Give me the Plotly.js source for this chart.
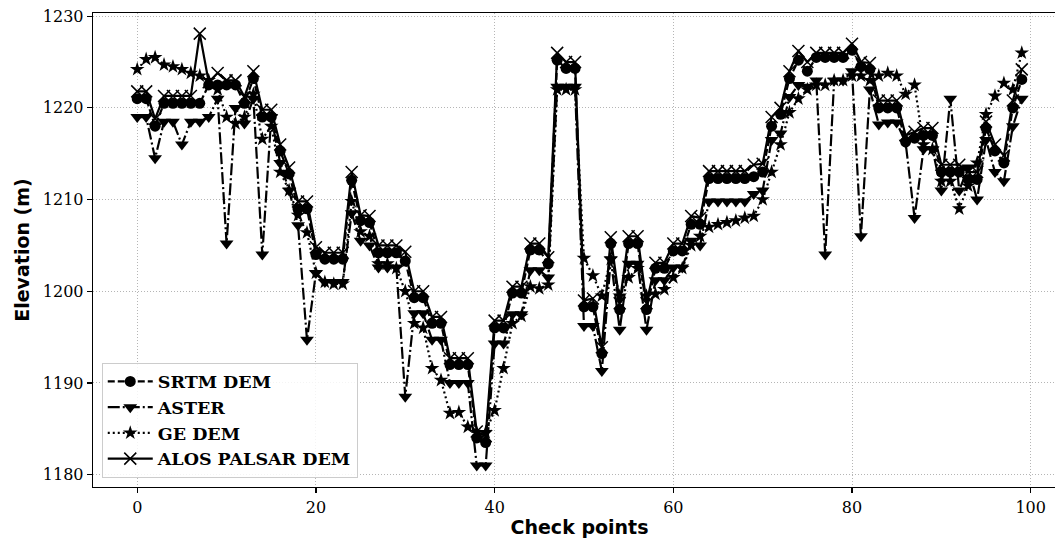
<!DOCTYPE html>
<html>
<head>
<meta charset="utf-8">
<script src="https://cdn.plot.ly/plotly-3.0.1.min.js"></script>
<style>html,body{margin:0;padding:0;overflow:hidden;background:#fff;}#chart{width:1080px;height:541px;}</style>
</head>
<body>
<div id="chart"></div>
<script>
const checkPoints = Array.from({length: 100}, (_, i) => i);

const srtm = [1221,1221,1218,1220.5,1220.5,1220.5,1220.5,1220.5,1222.5,1222.5,
1222.5,1222.5,1220.5,1223.2,1219,1219,1215.3,1212.8,1209,1209,
1204,1203.5,1203.5,1203.5,1212.1,1207.7,1207.5,1204.2,1204.2,1204.2,
1203.3,1199.3,1199.3,1196.5,1196.5,1192,1192,1192,1184,1183.5,
1196,1196,1199.8,1199.8,1204.5,1204.5,1203,1225.2,1224.3,1224.3,
1198.3,1198.3,1193.2,1205.2,1198,1205.2,1205.2,1198,1202.5,1202.5,
1204.4,1204.4,1207.3,1207.3,1212.3,1212.3,1212.3,1212.3,1212.3,1212.5,
1213,1218,1219.3,1223.2,1225.2,1224,1225.5,1225.5,1225.5,1225.5,
1226.3,1224.5,1224.2,1220,1220,1220,1216.3,1216.7,1217,1217,
1213,1213,1213,1212.2,1212.2,1217.8,1215.3,1214,1220,1223.1];

const aster = [1219,1219,1214.5,1218.5,1218.5,1216,1218.5,1218.5,1219,1221,
1205.2,1220,1218.3,1221,1204,1219,1214,1211,1207.2,1194.7,
1202,1201,1201,1201,1208.5,1205.5,1205,1202.6,1202.6,1202.6,
1188.5,1197.6,1197.6,1194.7,1194.7,1190,1190,1190,1181,1181,
1194.3,1194.3,1197.5,1197.5,1202.3,1202.3,1201.5,1222.3,1222.3,1222.3,
1196.2,1196.2,1191.3,1203.5,1195.8,1203,1203,1195.8,1201.2,1201.2,
1202.6,1202.6,1205.5,1205,1209.8,1209.8,1209.8,1209.8,1209.8,1210.6,
1211,1216.5,1217.2,1221.2,1222.5,1222.3,1223,1204,1223,1223,
1224,1206,1222,1218.2,1218.4,1218.4,1216.2,1208,1215.5,1215.5,
1211,1221,1211,1213.5,1210,1216.5,1213,1212,1218,1221];

const geDem = [1224.2,1225.3,1225.5,1224.7,1224.5,1224.2,1223.8,1223.5,1223,1222,
1219,1218.3,1219,1221.5,1216.6,1218,1213,1211,1208.3,1206.4,
1202,1201,1200.8,1200.8,1209.8,1206.5,1206,1203,1203,1202.5,
1200,1196.5,1196,1191.6,1190.3,1186.7,1186.8,1185.2,1184.6,1184.6,
1187,1191.6,1196.5,1197.3,1200.5,1200.3,1200.7,1222,1222,1222,
1203.6,1201.7,1199.5,1203.5,1199.5,1201.5,1202.5,1199.5,1199.7,1200.2,
1201.5,1202.5,1205,1206,1207,1207.3,1207.5,1207.7,1208,1208.2,
1210,1213,1216,1219.5,1221,1222,1222.5,1222.5,1223,1223,
1223.5,1223.5,1223,1223.5,1223.8,1223.5,1221.5,1222.5,1216,1215.5,
1212,1212,1209,1211.5,1214,1219.3,1221.3,1222.7,1222,1226];

const alos = [1221.8,1221.8,1218.8,1221.3,1221.3,1221.3,1221.3,1228.1,1222.8,1223.8,
1223,1223,1221.2,1224,1219.8,1219.8,1216,1213.5,1209.8,1209.8,
1204.8,1204.2,1204.2,1204.2,1213,1208.3,1208.2,1205,1205,1205,
1204.3,1200,1200,1197.2,1197.2,1192.7,1192.7,1192.7,1184.7,1184.2,
1196.8,1196.8,1200.5,1200.5,1205.2,1205.2,1203.7,1226,1225,1225,
1199,1199.2,1193.9,1205.9,1198.7,1206,1206,1198.7,1203.1,1203.1,
1205.2,1205.2,1208.2,1208,1213.1,1213.1,1213.1,1213.1,1213.1,1213.8,
1213.9,1219,1220,1224,1226.2,1225,1226,1226,1226,1226,
1227,1225,1224.9,1220.8,1220.8,1220.8,1217,1217.4,1217.8,1217.8,
1213.8,1213.8,1213.8,1213,1213,1218.5,1216,1214.8,1220.8,1224.2];

const seriesNames = ['SRTM DEM', 'ASTER', 'GE DEM', 'ALOS PALSAR DEM'];
const xTicks = [0, 20, 40, 60, 80, 100];
const yTicks = [1180, 1190, 1200, 1210, 1220, 1230];

const traces = [
  {x: checkPoints, y: srtm, name: seriesNames[0], mode: 'lines+markers',
   line: {color: '#000', width: 2.2, dash: '7px,3px'},
   marker: {symbol: 'circle', size: 11, color: '#000'}},
  {x: checkPoints, y: aster, name: seriesNames[1], mode: 'lines+markers',
   line: {color: '#000', width: 2.2, dash: '12px,3px,2px,3px'},
   marker: {symbol: 'triangle-down', size: 12, color: '#000'}},
  {x: checkPoints, y: geDem, name: seriesNames[2], mode: 'lines+markers',
   line: {color: '#000', width: 2.2, dash: '2px,3px'},
   marker: {symbol: 'star', size: 11, color: '#000'}},
  {x: checkPoints, y: alos, name: seriesNames[3], mode: 'lines+markers',
   line: {color: '#000', width: 2.2, dash: 'solid'},
   marker: {symbol: 'x-thin-open', size: 12, color: '#000', line: {color: '#000', width: 1.5}}}
];

const axisCommon = {
  showline: true, linecolor: '#000', linewidth: 1.3, mirror: true,
  ticks: 'outside', ticklen: 5, tickwidth: 1.2, tickcolor: '#000',
  showgrid: true, gridcolor: '#b5b5b5', gridwidth: 1, griddash: '1px,2px',
  zeroline: false,
  tickfont: {family: 'DejaVu Serif', size: 16, color: '#000'}
};

const layout = {
  width: 1080, height: 541,
  margin: {l: 93, r: 14, t: 13, b: 54},
  paper_bgcolor: '#fff', plot_bgcolor: '#fff',
  showlegend: true,
  xaxis: Object.assign({}, axisCommon, {
    range: [-4.95, 103.95], tickvals: xTicks, ticktext: xTicks.map(String),
    title: {text: 'Check points', font: {family: 'DejaVu Sans', size: 19, color: '#000', weight: 'bold'}, standoff: 5}
  }),
  yaxis: Object.assign({}, axisCommon, {
    range: [1178.65, 1230.35], tickvals: yTicks, ticktext: yTicks.map(String),
    title: {text: 'Elevation (m)', font: {family: 'DejaVu Sans', size: 19, color: '#000', weight: 'bold'}, standoff: 8}
  }),
  legend: {
    x: 0.009, y: 0.02, xanchor: 'left', yanchor: 'bottom',
    bgcolor: 'rgba(255,255,255,0.85)', bordercolor: '#cccccc', borderwidth: 1,
    font: {family: 'DejaVu Serif', size: 17.5, color: '#000', weight: 'bold'},
    itemwidth: 45,
    tracegroupgap: 0
  }
};

Plotly.newPlot('chart', traces, layout, {displayModeBar: false, staticPlot: true});
</script>
</body>
</html>
